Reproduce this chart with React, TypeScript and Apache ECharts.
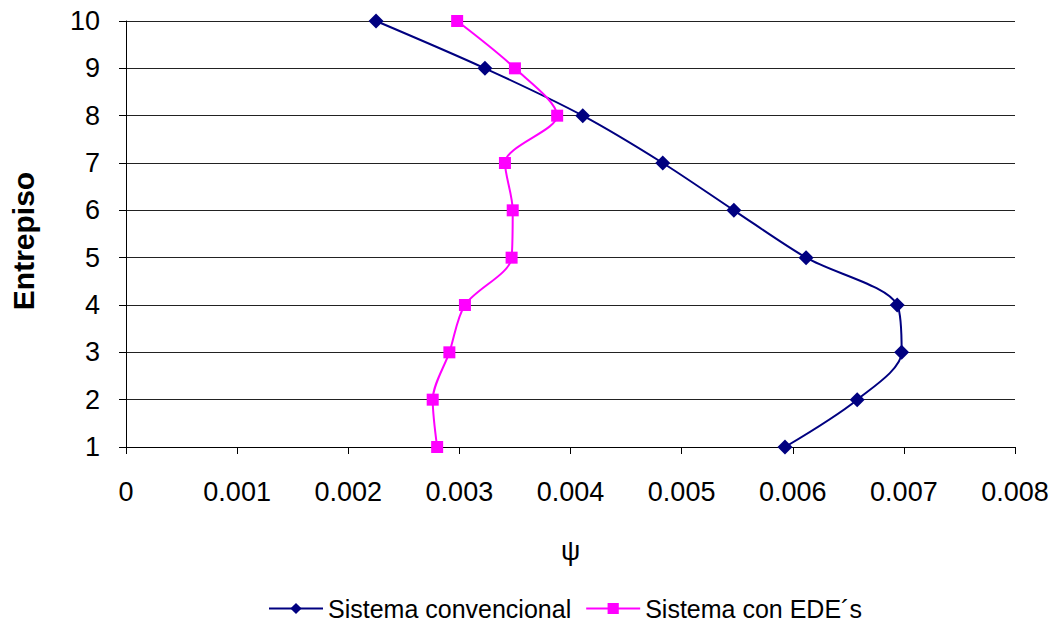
import React, { useEffect, useRef } from "react";
import * as echarts from "echarts";

// Entrepiso (story) levels and drift ratio ψ for each system
const stories = [1, 2, 3, 4, 5, 6, 7, 8, 9, 10];
const convencional = [0.00593, 0.00658, 0.00698, 0.00694, 0.00612, 0.00547, 0.00483, 0.00411, 0.00323, 0.00225];
const conEDE = [0.0028, 0.00276, 0.00291, 0.00305, 0.00347, 0.00348, 0.00341, 0.00388, 0.0035, 0.00298];
const seriesNames = ["Sistema convencional", "Sistema con EDE´s"];

const FONT = "Liberation Sans, Arial, sans-serif";

export default function App() {
  const ref = useRef<HTMLDivElement>(null);

  useEffect(() => {
    if (!ref.current) return;
    const chart = echarts.init(ref.current, null, { renderer: "svg" });
    chart.setOption({
      animation: false,
      backgroundColor: "#ffffff",
      textStyle: { fontFamily: FONT },
      grid: { left: 126, right: 45, top: 21, bottom: 179, containLabel: false },
      xAxis: {
        type: "value",
        min: 0,
        max: 0.008,
        interval: 0.001,
        name: "ψ",
        nameLocation: "middle",
        nameGap: 90,
        nameTextStyle: { fontSize: 27, color: "#000", fontFamily: FONT },
        axisLine: { show: true, lineStyle: { color: "#000", width: 1 } },
        axisTick: { show: true, length: 7, lineStyle: { color: "#000" } },
        axisLabel: {
          fontSize: 27,
          color: "#000",
          margin: 31,
          formatter: (v: number) => (v === 0 ? "0" : v.toFixed(3)),
        },
        splitLine: { show: false },
      },
      yAxis: {
        type: "value",
        min: 1,
        max: 10,
        interval: 1,
        name: "Entrepiso",
        nameLocation: "middle",
        nameGap: 88,
        nameRotate: 90,
        nameTextStyle: {
          fontSize: 30,
          fontWeight: "bold",
          color: "#000",
          fontFamily: FONT,
          padding: [0, 14, 0, 0],
        },
        axisLine: { show: true, lineStyle: { color: "#000", width: 1 } },
        axisTick: { show: true, length: 7, lineStyle: { color: "#000" } },
        axisLabel: { fontSize: 27, color: "#000", margin: 26 },
        splitLine: { show: true, lineStyle: { color: "#222", width: 1 } },
      },
      legend: {
        top: 591,
        left: 263,
        itemWidth: 54,
        itemHeight: 14,
        itemGap: 14,
        textStyle: { fontSize: 25, color: "#000", fontFamily: FONT },
        data: seriesNames,
      },
      series: [
        {
          name: seriesNames[0],
          type: "line",
          smooth: 0.3,
          symbol: "diamond",
          symbolSize: 15,
          color: "#000080",
          lineStyle: { color: "#000080", width: 2 },
          itemStyle: { color: "#000080" },
          data: stories.map((s, i) => [convencional[i], s]),
        },
        {
          name: seriesNames[1],
          type: "line",
          smooth: 0.3,
          symbol: "rect",
          symbolSize: 12,
          color: "#ff00ff",
          lineStyle: { color: "#ff00ff", width: 2 },
          itemStyle: { color: "#ff00ff" },
          data: stories.map((s, i) => [conEDE[i], s]),
        },
      ],
    });
    return () => chart.dispose();
  }, []);

  return (
    <div
      ref={ref}
      style={{ width: 1060, height: 626, position: "absolute", left: 0, top: 0 }}
    />
  );
}
